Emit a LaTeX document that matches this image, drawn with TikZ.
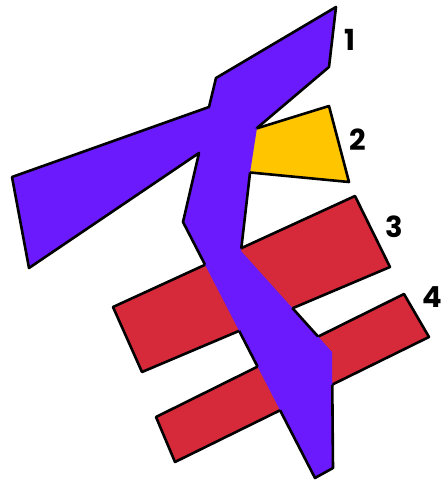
\documentclass[tikz,border=0pt]{standalone}
\usepackage{fontspec}
\newfontfamily\lblfont{Poppins}
\definecolor{purp}{RGB}{106,26,252}
\definecolor{yel}{RGB}{255,198,0}
\definecolor{redc}{RGB}{214,42,58}
\begin{document}
\begin{tikzpicture}[x=1pt,y=-1pt,
  shapeline/.style={line width=2.6pt,line join=round,draw=black},
  lbl/.style={font=\lblfont\bfseries\fontsize{29}{29}\selectfont,inner sep=0pt}]
\useasboundingbox[fill=white] (0,0) rectangle (444,483);
\def\purppath{(336,7) -- (329,67) -- (257,128) -- (250,173) -- (241,251) -- (332,352) -- (333,468) -- (315,478) -- (183,222) -- (199,153) -- (29,268) -- (12,177) -- (209,107) -- (216,78) -- cycle}
\def\yelpath{(245,132) -- (329,106) -- (349,182) -- (245,172) -- cycle}
\def\redA{(113,307) -- (355,196) -- (390,267) -- (142,372) -- cycle}
\def\redB{(156,417) -- (404,294) -- (429,337) -- (175,462) -- cycle}
% lower layers
\draw[shapeline,fill=yel] \yelpath;
\draw[shapeline,fill=redc] \redA;
\draw[shapeline,fill=redc] \redB;
% purple fill on top
\fill[purp] \purppath;
% purple outline only where it is not over the other shapes
\begin{scope}[even odd rule]
  \clip (-10,-10) rectangle (460,500) \yelpath \redA \redB;
  \draw[shapeline] \purppath;
\end{scope}
% labels
\node[lbl] (l1) at (350,40) {1};
\node[lbl] (l2) at (358,140) {2};
\node[lbl] (l3) at (394,227) {3};
\node[lbl] (l4) at (432,297) {4};
\end{tikzpicture}
\end{document}
